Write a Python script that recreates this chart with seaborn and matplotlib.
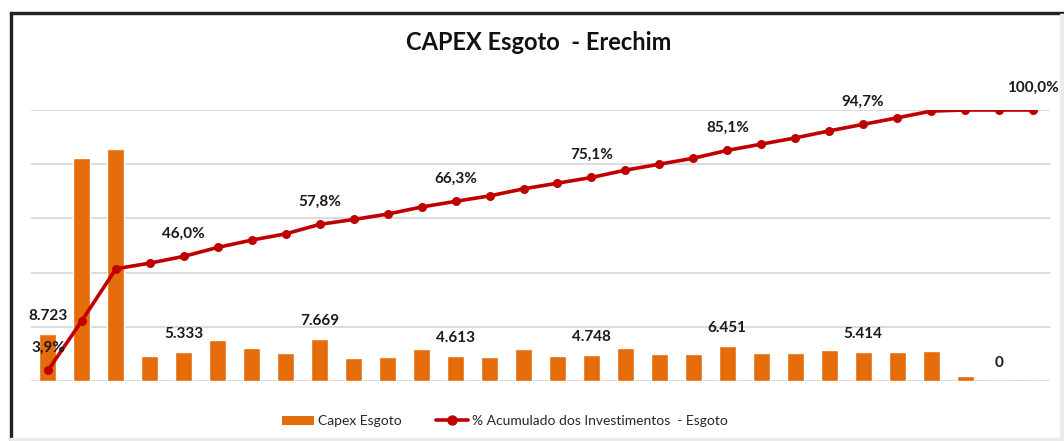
import numpy as np
import pandas as pd
import matplotlib
matplotlib.use("Agg")
import matplotlib.pyplot as plt
from matplotlib.lines import Line2D
from matplotlib.patches import Patch, Rectangle
import seaborn as sns

# ── Data ──────────────────────────────────────────────────────────────────────
periods = list(range(1, 31))
capex = [8723, 41200, 42800, 4550, 5333, 7600, 6080, 5100, 7669, 4240,
         4420, 5950, 4613, 4420, 5950, 4600, 4748, 6140, 4910, 4910,
         6451, 5100, 5200, 5770, 5414, 5400, 5520, 920, 0, 0]
acum_pct = [3.9, 22.3, 41.4, 43.5, 46.0, 49.3, 52.0, 54.3, 57.8, 59.6,
            61.6, 64.2, 66.3, 68.3, 70.9, 73.0, 75.1, 77.8, 80.0, 82.2,
            85.1, 87.4, 89.7, 92.3, 94.7, 97.1, 99.6, 100.0, 100.0, 100.0]
bar_label_idx = [0, 4, 8, 12, 16, 20, 24, 28]
line_label_idx = [0, 4, 8, 12, 16, 20, 24, 29]

ORANGE = "#E46C0A"
RED = "#C00000"
GRID = "#D9D9D9"

sns.set_theme(style="white")
plt.rcParams["font.family"] = ["Lato", "DejaVu Sans"]

df = pd.DataFrame({"periodo": periods, "capex": capex, "acum": acum_pct})
df["pos"] = np.arange(len(df))

fig = plt.figure(figsize=(10.64, 4.41), dpi=100)
ax = fig.add_axes([31 / 1064, 60 / 441, 1019 / 1064, 271 / 441])

sns.barplot(data=df, x="pos", y="capex", color=ORANGE, width=0.5,
            saturation=1, ax=ax, zorder=2)
ax.set_xlim(-0.5, len(df) - 0.5)
ax.set_ylim(0, 50000)
ax.set_yticks(np.arange(0, 50001, 10000))
ax.yaxis.grid(True, color=GRID, lw=1.3, zorder=0)
ax.set_axisbelow(True)
ax.set_xticks([])
ax.set_yticklabels([])
ax.set_xlabel("")
ax.set_ylabel("")
for s in ax.spines.values():
    s.set_visible(False)

for i in bar_label_idx:
    v = capex[i]
    ax.annotate(f"{v:,}".replace(",", "."), (i, v), xytext=(0, 13),
                textcoords="offset points", ha="center", va="center",
                fontsize=11, fontweight="bold", color="#1a1a1a",
                annotation_clip=False)

ax2 = ax.twinx()
sns.lineplot(data=df, x="pos", y="acum", color=RED, lw=2.6, marker="o",
             markersize=6.5, markeredgewidth=0, ax=ax2, zorder=3)
ax2.set_ylim(0, 100)
ax2.set_xlim(-0.5, len(df) - 0.5)
ax2.set_yticks([])
ax2.set_xlabel("")
ax2.set_ylabel("")
for s in ax2.spines.values():
    s.set_visible(False)
for a in (ax, ax2):
    a.tick_params(axis="both", which="both", length=0)

for i in line_label_idx:
    v = acum_pct[i]
    ax2.annotate(f"{v:.1f}%".replace(".", ","), (i, v), xytext=(0, 16),
                 textcoords="offset points", ha="center", va="center",
                 fontsize=11, fontweight="bold", color="#1a1a1a",
                 annotation_clip=False)

fig.text(539 / 1064, 1 - 43 / 441, "CAPEX Esgoto  - Erechim", ha="center",
         va="center", fontsize=17, fontweight="bold", color="#111111")

handles = [Patch(facecolor=ORANGE, edgecolor="none"),
           Line2D([0], [0], color=RED, lw=2.6, marker="o", markersize=6.5)]
fig.legend(handles, ["Capex Esgoto", "% Acumulado dos Investimentos  - Esgoto"],
           loc="center", bbox_to_anchor=(505 / 1064, 1 - 421 / 441), ncol=2,
           frameon=False, fontsize=10, handlelength=2.3, handletextpad=0.3,
           handleheight=0.6, columnspacing=2.5)

# frame of the screenshot
fig.patches.append(Rectangle((10 / 1064, 0), 2 / 1064, 1 - 12 / 441,
                             transform=fig.transFigure, color="#222222"))
fig.patches.append(Rectangle((10 / 1064, 1 - 14 / 441), 1, 2 / 441,
                             transform=fig.transFigure, color="#222222"))
fig.patches.append(Rectangle((1060 / 1064, 0), 4 / 1064, 1 - 14 / 441,
                             transform=fig.transFigure, color="#EBEBEB"))
fig.patches.append(Rectangle((10 / 1064, 0), 1, 3 / 441,
                             transform=fig.transFigure, color="#EBEBEB"))

fig.savefig("out.png", dpi=100)
